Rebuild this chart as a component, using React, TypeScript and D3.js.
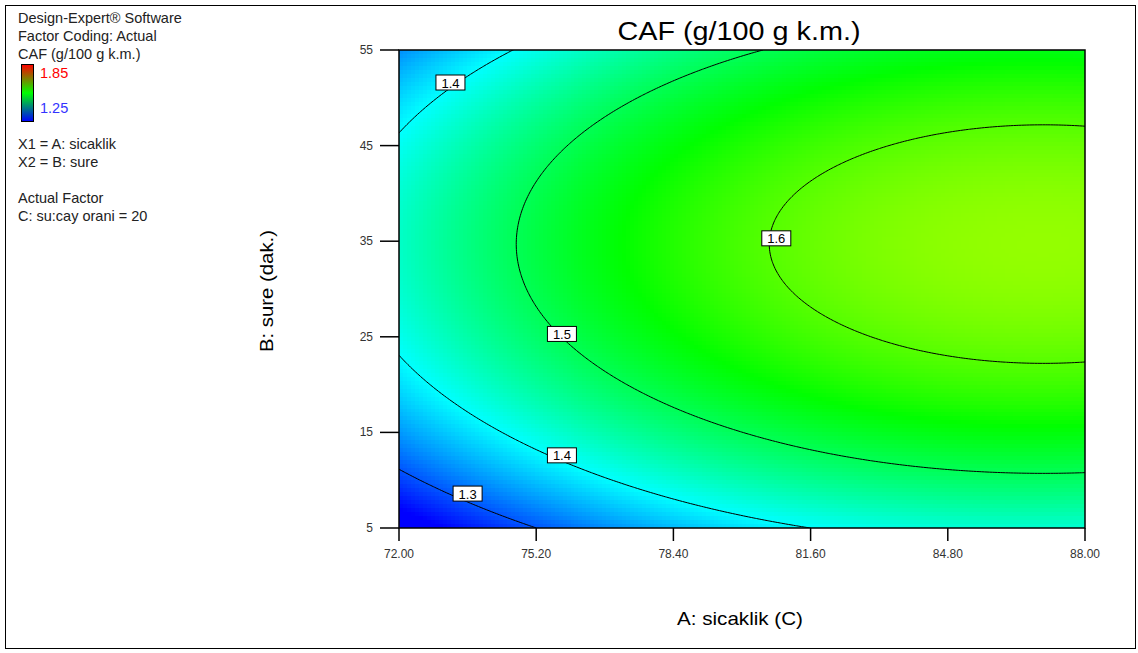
import React from "react";
import * as d3 from "d3";

// ---- data ----
const xTicks = [72.0, 75.2, 78.4, 81.6, 84.8, 88.0];
const yTicks = [5, 15, 25, 35, 45, 55];
const contourLevels = [1.3, 1.4, 1.5, 1.6];
// quadratic model in coded units: x=(A-80)/8, y=(B-30)/25
const modelTerms = ["Intercept", "A", "B", "AB", "A^2", "B^2"];
const modelCoefs = [1.587, 0.102, 0.056, 0.0, -0.058, -0.149];
// contour label positions (A, B, level)
const labelA = [73.2, 73.6, 75.8, 75.8, 80.8];
const labelB = [51.6, 8.6, 12.6, 25.3, 35.3];
const labelText = ["1.4", "1.3", "1.4", "1.5", "1.6"];
const legendLines = [
  "Design-Expert® Software",
  "Factor Coding: Actual",
  "CAF (g/100 g k.m.)",
];
const factorLines = ["X1 = A: sicaklik", "X2 = B: sure", "", "Actual Factor", "C: su:cay orani = 20"];
const colorMin = 1.25;
const colorMax = 1.85;

const FONT = "'Liberation Sans', Arial, sans-serif";

function model(A: number, B: number) {
  const x = (A - 80) / 8;
  const y = (B - 30) / 25;
  const c = modelCoefs;
  return c[0] + c[1] * x + c[2] * y + c[3] * x * y + c[4] * x * x + c[5] * y * y;
}

const fillColor = d3
  .scaleLinear<string>()
  .domain([0, 0.25, 0.5, 0.75, 1].map((t) => colorMin + t * (colorMax - colorMin)))
  .range(["#0000ff", "#00ffff", "#00ff00", "#ffff00", "#ff0000"])
  .clamp(true);

export default function App() {
  const W = 1138;
  const H = 653;
  const L = 399, R = 1085, T = 50, Bm = 528;
  const xs = d3.scaleLinear().domain([72, 88]).range([L, R]);
  const ys = d3.scaleLinear().domain([5, 55]).range([Bm, T]);

  // fill cells
  const nx = 172, ny = 120;
  const cw = (R - L) / nx, ch = (Bm - T) / ny;
  const cells: JSX.Element[] = [];
  for (let j = 0; j < ny; j++) {
    for (let i = 0; i < nx; i++) {
      const A = xs.invert(L + (i + 0.5) * cw);
      const B = ys.invert(T + (j + 0.5) * ch);
      cells.push(
        <rect
          key={i + "-" + j}
          x={L + i * cw}
          y={T + j * ch}
          width={cw + 0.6}
          height={ch + 0.6}
          fill={fillColor(model(A, B))}
        />
      );
    }
  }

  // contours
  const gn = 260, gm = 200;
  const vals = new Array(gn * gm);
  for (let j = 0; j < gm; j++) {
    for (let i = 0; i < gn; i++) {
      const A = 72 + (i / (gn - 1)) * 16;
      const B = 55 - (j / (gm - 1)) * 50;
      vals[j * gn + i] = model(A, B);
    }
  }
  const contours = d3.contours().size([gn, gm]).thresholds(contourLevels)(vals);
  const gx = d3.scaleLinear().domain([0.5, gn - 0.5]).range([L, R]);
  const gy = d3.scaleLinear().domain([0.5, gm - 0.5]).range([T, Bm]);
  const path = d3.geoPath(
    d3.geoTransform({
      point(x, y) {
        (this as any).stream.point(gx(x), gy(y));
      },
    })
  );

  const legendColor = d3
    .scaleLinear<string>()
    .domain([0, 0.5, 1])
    .range(["#ff0000", "#00ff00", "#0000ff"]);

  return (
    <svg width={W} height={H} style={{ position: "absolute", left: 0, top: 0 }} fontFamily={FONT}>
      <rect x={0} y={0} width={W} height={H} fill="#fff" />
      <rect x={5.5} y={5.5} width={1130} height={643} fill="none" stroke="#000" strokeWidth={1} />

      <defs>
        <clipPath id="plotClip">
          <rect x={L} y={T} width={R - L} height={Bm - T} />
        </clipPath>
        <linearGradient id="lg" x1="0" y1="0" x2="0" y2="1">
          {d3.range(0, 1.0001, 0.1).map((t) => (
            <stop key={t} offset={t} stopColor={legendColor(t)} />
          ))}
        </linearGradient>
      </defs>

      {/* side text */}
      <g fontSize={14.5} fill="#222">
        {legendLines.map((s, i) => (
          <text key={s} x={18} y={23 + i * 18}>
            {s}
          </text>
        ))}
        {factorLines.map((s, i) => (
          <text key={i} x={18} y={149 + i * 18}>
            {s}
          </text>
        ))}
      </g>
      <rect x={21.5} y={64.5} width={12} height={57} fill="url(#lg)" stroke="#000" strokeWidth={1} />
      <text x={40} y={78} fontSize={14.5} fill="#ff0000">1.85</text>
      <text x={40} y={113} fontSize={14.5} fill="#3333ff">1.25</text>

      {/* fill */}
      <g shapeRendering="crispEdges" clipPath="url(#plotClip)">{cells}</g>

      {/* contour lines */}
      <g clipPath="url(#plotClip)">
        {contours.map((c, k) => (
          <path key={k} d={path(c as any) || ""} fill="none" stroke="#000" strokeWidth={1} />
        ))}
      </g>

      {/* frame */}
      <rect x={L} y={T} width={R - L} height={Bm - T} fill="none" stroke="#000" strokeWidth={1.5} />

      {/* labels */}
      {labelText.map((t, i) => (
        <g key={i} transform={`translate(${xs(labelA[i])},${ys(labelB[i])})`}>
          <rect x={-14.5} y={-7.5} width={29} height={15} fill="#fff" stroke="#000" strokeWidth={1} />
          <text x={0} y={5} textAnchor="middle" fontSize={13} fill="#000">
            {t}
          </text>
        </g>
      ))}

      {/* x axis */}
      {xTicks.map((v) => (
        <g key={v}>
          <line x1={xs(v)} x2={xs(v)} y1={Bm} y2={Bm + 13} stroke="#000" strokeWidth={1.5} />
          <text x={xs(v)} y={558} textAnchor="middle" fontSize={12} fill="#333">
            {v.toFixed(2)}
          </text>
        </g>
      ))}
      {/* y axis */}
      {yTicks.map((v) => (
        <g key={v}>
          <line x1={380} x2={L} y1={ys(v)} y2={ys(v)} stroke="#000" strokeWidth={1.5} />
          <text x={373} y={ys(v) + 4} textAnchor="end" fontSize={12} fill="#333">
            {v}
          </text>
        </g>
      ))}

      <text x={739} y={40} textAnchor="middle" fontSize={26} fill="#000" textLength={243} lengthAdjust="spacingAndGlyphs">
        CAF (g/100 g k.m.)
      </text>
      <text x={740} y={625} textAnchor="middle" fontSize={19} fill="#000" textLength={126} lengthAdjust="spacingAndGlyphs">
        A: sicaklik (C)
      </text>
      <text
        transform={`translate(273,291) rotate(-90)`}
        textAnchor="middle"
        fontSize={19}
        fill="#000"
        textLength={122}
        lengthAdjust="spacingAndGlyphs"
      >
        B: sure (dak.)
      </text>
    </svg>
  );
}
